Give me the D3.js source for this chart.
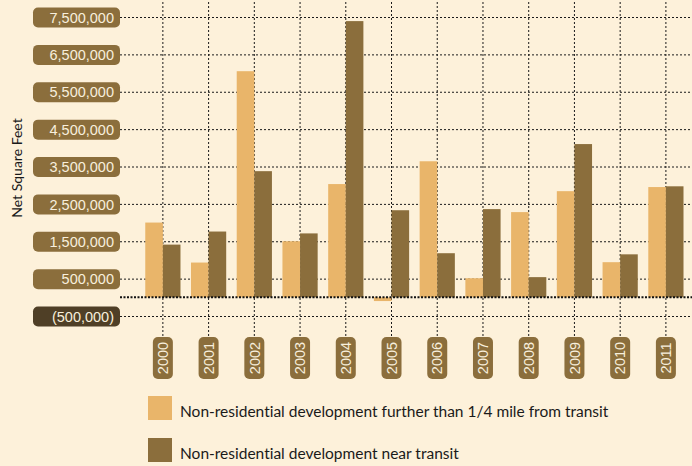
<!DOCTYPE html>
<html>
<head>
<meta charset="utf-8">
<script src="https://cdn.jsdelivr.net/npm/d3@7"></script>
<style>
  body { margin: 0; background: #fdf1da; }
  svg { display: block; font-family: Lato, "Open Sans", sans-serif; font-variant-ligatures: none; }
</style>
</head>
<body>
<div id="chart"></div>
<script>
// values
const years = ["2000", "2001", "2002", "2003", "2004", "2005", "2006", "2007", "2008", "2009", "2010", "2011"];
const furtherFromTransit = [2000000, 930000, 6050000, 1500000, 3030000, -100000, 3640000, 510000, 2280000, 2840000, 940000, 2950000];
const nearTransit = [1410000, 1760000, 3375000, 1710000, 7390000, 2330000, 1180000, 2360000, 540000, 4100000, 1150000, 2970000];
const yTicks = [-500000, 500000, 1500000, 2500000, 3500000, 4500000, 5500000, 6500000, 7500000];
const seriesNames = [
    "Non-residential development further than 1/4 mile from transit",
    "Non-residential development near transit"
];
const colors = ["#e9b56a", "#8b6e3c"];

const width = 692, height = 466;
const plotLeft = 120, plotRight = 692;

const svg = d3.select("#chart").append("svg")
    .attr("width", width)
    .attr("height", height);

svg.append("rect").attr("width", width).attr("height", height).attr("fill", "#fdf1da");

const y = d3.scaleLinear()
    .domain([-500000, 7500000])
    .range([316, 17]);

const x = d3.scaleBand()
    .domain(years)
    .range([140, 140 + 12 * 45.73])
    .paddingInner(0.23)
    .paddingOuter(0.115);

const fmt = d => d < 0 ? "(" + d3.format(",")(-d) + ")" : d3.format(",")(d);

// horizontal gridlines + pill labels
const yAxis = svg.append("g")
    .attr("transform", `translate(${plotLeft},0)`)
    .call(d3.axisLeft(y).tickValues(yTicks).tickSize(-(plotRight - plotLeft)).tickFormat(fmt).tickPadding(6));

yAxis.select(".domain").remove();
yAxis.selectAll(".tick line")
    .attr("stroke", "#1a1a1a")
    .attr("stroke-dasharray", "2,2");
yAxis.selectAll(".tick").insert("rect", "text")
    .attr("x", -87)
    .attr("y", -10)
    .attr("width", 87)
    .attr("height", 20)
    .attr("rx", 5)
    .attr("fill", d => d < 0 ? "#4f3f26" : "#8b6e3c");
yAxis.selectAll(".tick text")
    .attr("fill", "#f8efdc")
    .attr("font-size", 14.5)
    .attr("dy", "0.36em");

// vertical gridlines + year pills
const xAxis = svg.append("g")
    .call(d3.axisBottom(x).tickSize(337).tickPadding(0));

xAxis.select(".domain").remove();
xAxis.selectAll(".tick line")
    .attr("y1", 2)
    .attr("stroke", "#1a1a1a")
    .attr("stroke-dasharray", "2,2");
xAxis.selectAll(".tick").insert("rect", "text")
    .attr("x", -10)
    .attr("y", 337)
    .attr("width", 20)
    .attr("height", 42)
    .attr("rx", 5)
    .attr("fill", "#8b6e3c");
xAxis.selectAll(".tick text")
    .attr("y", 0)
    .attr("dy", "0.36em")
    .attr("transform", "translate(0,358) rotate(-90)")
    .attr("text-anchor", "middle")
    .attr("fill", "#f8efdc")
    .attr("font-size", 14.5);

// bars
const xSub = d3.scaleBand()
    .domain([0, 1])
    .range([0, x.bandwidth()]);

const rows = years.map((yr, i) => ({year: yr, values: [furtherFromTransit[i], nearTransit[i]]}));

svg.append("g")
    .selectAll("g")
    .data(rows)
    .join("g")
    .attr("transform", d => `translate(${x(d.year)},0)`)
    .selectAll("rect")
    .data(d => d.values.map((v, k) => ({k: k, v: v})))
    .join("rect")
    .attr("x", d => xSub(d.k))
    .attr("width", xSub.bandwidth())
    .attr("y", d => Math.min(y(d.v), y(0)))
    .attr("height", d => Math.abs(y(d.v) - y(0)))
    .attr("fill", d => colors[d.k]);

// zero baseline
svg.append("line")
    .attr("x1", plotLeft)
    .attr("x2", plotRight)
    .attr("y1", y(0))
    .attr("y2", y(0))
    .attr("stroke", "#111")
    .attr("stroke-width", 2)
    .attr("stroke-dasharray", "2,1.5");

// y axis title
svg.append("text")
    .attr("transform", "translate(22,168) rotate(-90)")
    .attr("text-anchor", "middle")
    .attr("font-size", 14)
    .attr("fill", "#1a1a1a")
    .text("Net Square Feet");

// legend
const legend = svg.append("g")
    .selectAll("g")
    .data(seriesNames)
    .join("g")
    .attr("transform", (d, i) => `translate(148,${396 + i * 42})`);

legend.append("rect")
    .attr("width", 24)
    .attr("height", 24)
    .attr("fill", (d, i) => colors[i]);

legend.append("text")
    .attr("x", 32)
    .attr("y", 21)
    .attr("font-size", 15.5)
    .attr("fill", "#1a1a1a")
    .text(d => d);
</script>
</body>
</html>
